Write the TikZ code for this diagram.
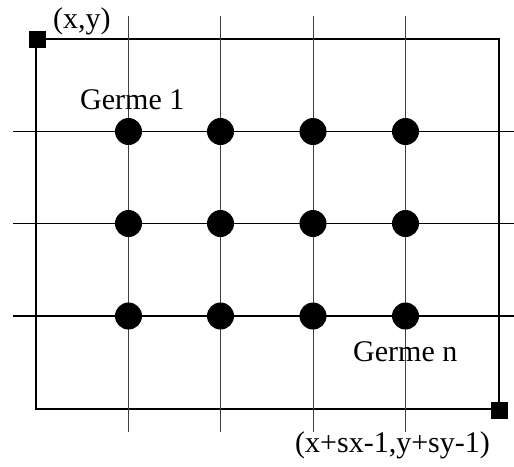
\documentclass[tikz,border=0pt]{standalone}
\usepackage{fontspec}
\setmainfont{Liberation Serif}
\usepackage{tikz}
\usetikzlibrary{positioning,calc}
\tikzset{
  gdot/.style={circle, fill=black, inner sep=0pt, minimum size=27pt},
  gcorner/.style={rectangle, fill=black, inner sep=0pt, minimum size=17pt},
  gframe/.style={draw, line width=1.3pt},
  gvline/.style={draw=black!75, line width=1pt},
  ghline/.style={draw=black, line width=1.2pt},
  glabel/.style={anchor=base west, inner sep=0pt, font=\fontsize{30}{35}\selectfont},
}
\begin{document}
\begin{tikzpicture}[x=1pt, y=-1pt]
  \useasboundingbox (0,0) rectangle (514,466);
  % frame of the block
  \draw[gframe] (36,39) rectangle (499,409);
  % grid lines
  \foreach \gx in {128.5,220.5,313,405.5}
    \draw[gvline] (\gx,16) -- (\gx,432);
  \foreach \gy in {131.5,223.5,316}
    \draw[ghline] (13,\gy) -- (514,\gy);
  % corners
  \node[gcorner] (tl) at (37,39) {};
  \node[gcorner] (br) at (499,410) {};
  % seeds
  \foreach \gx [count=\i] in {128.5,220.5,313,405.5}
    \foreach \gy [count=\j] in {131.5,223.5,316}
      \node[gdot] (d-\i-\j) at (\gx,\gy) {};
  % labels
  \node[glabel] (ltl) at (53,28) {(x,y)};
  \node[glabel] (lg1) at (80,109) {Germe 1};
  \node[glabel] (lgn) at (353,361) {Germe n};
  \node[glabel] (lbr) at (295,452) {(x+sx-1,y+sy-1)};
\end{tikzpicture}
\end{document}
